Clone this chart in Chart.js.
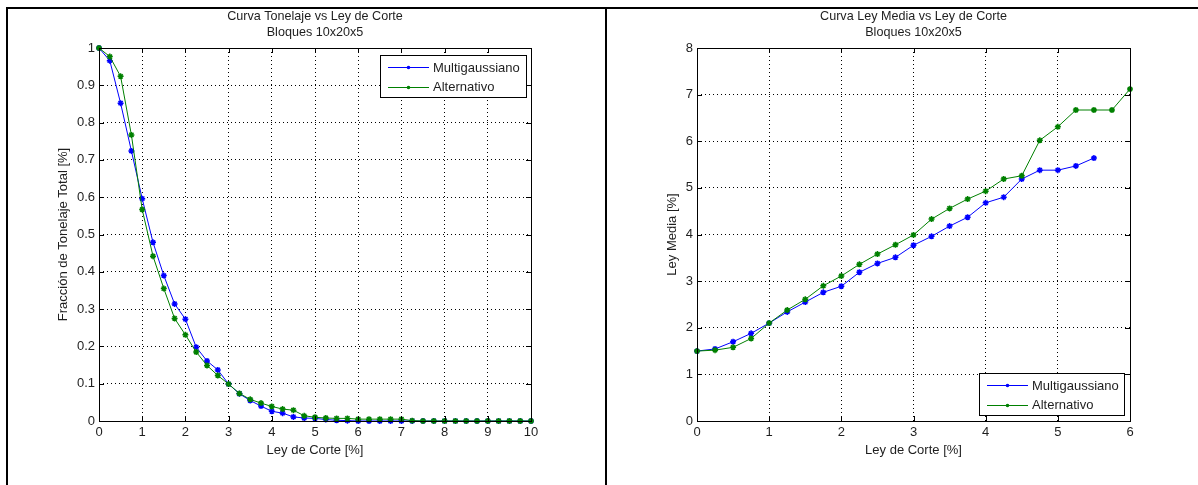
<!DOCTYPE html>
<html lang="es">
<head>
<meta charset="UTF-8">
<title>Curvas Tonelaje / Ley Media</title>
<script src="https://cdn.jsdelivr.net/npm/chart.js"></script>
<style>
  html, body { margin: 0; padding: 0; background: #fff; }
  body { width: 1198px; height: 485px; position: relative; overflow: hidden; }
  canvas { position: absolute; top: 0; }
  #cTon { left: 0; }
  #cLey { left: 600px; }
  .rule { position: absolute; background: #000; z-index: 2; }
</style>
</head>
<body>
<div class="rule" style="left:7px;top:7px;width:1191px;height:2px"></div>
<div class="rule" style="left:6px;top:7px;width:2px;height:478px"></div>
<div class="rule" style="left:605px;top:7px;width:2px;height:478px"></div>
<canvas id="cTon" width="600" height="485"></canvas>
<canvas id="cLey" width="598" height="485"></canvas>
<script>
// ley de corte (%) para la curva de tonelaje
const cutoffTon = [0, 0.25, 0.5, 0.75, 1, 1.25, 1.5, 1.75, 2, 2.25, 2.5, 2.75, 3, 3.25, 3.5, 3.75,
  4, 4.25, 4.5, 4.75, 5, 5.25, 5.5, 5.75, 6, 6.25, 6.5, 6.75, 7, 7.25, 7.5, 7.75,
  8, 8.25, 8.5, 8.75, 9, 9.25, 9.5, 9.75, 10];
const tonMulti = [1.000, 0.966, 0.852, 0.724, 0.596, 0.479, 0.390, 0.314, 0.273, 0.198, 0.161, 0.137,
  0.099, 0.073, 0.055, 0.040, 0.026, 0.021, 0.011, 0.008, 0.007, 0.004, 0.002, 0.001,
  0, 0, 0, 0, 0, 0, 0, 0, 0, 0, 0, 0, 0, 0, 0, 0, 0];
const tonAlt = [1.000, 0.977, 0.924, 0.767, 0.567, 0.442, 0.355, 0.275, 0.231, 0.185, 0.149, 0.122,
  0.099, 0.074, 0.058, 0.048, 0.039, 0.032, 0.029, 0.014, 0.010, 0.008, 0.007, 0.007,
  0.005, 0.005, 0.005, 0.005, 0.005, 0.001, 0, 0, 0, 0, 0, 0, 0, 0, 0, 0, 0];

// ley de corte (%) para la curva de ley media
const cutoffLey = [0, 0.25, 0.5, 0.75, 1, 1.25, 1.5, 1.75, 2, 2.25, 2.5, 2.75, 3, 3.25, 3.5, 3.75,
  4, 4.25, 4.5, 4.75, 5, 5.25, 5.5, 5.75, 6];
const leyMulti = [1.50, 1.545, 1.70, 1.88, 2.10, 2.34, 2.55, 2.76, 2.89, 3.19, 3.38, 3.51,
  3.77, 3.96, 4.18, 4.37, 4.68, 4.80, 5.19, 5.38, 5.38, 5.47, 5.64];
const leyAlt = [1.50, 1.52, 1.58, 1.77, 2.10, 2.38, 2.61, 2.90, 3.11, 3.36, 3.58, 3.78,
  3.99, 4.33, 4.56, 4.76, 4.93, 5.19, 5.26, 6.02, 6.31, 6.67, 6.67, 6.67, 7.12];

const xTicksTon = [0, 1, 2, 3, 4, 5, 6, 7, 8, 9, 10];
const yTicksTon = [0, 0.1, 0.2, 0.3, 0.4, 0.5, 0.6, 0.7, 0.8, 0.9, 1];
const xTicksLey = [0, 1, 2, 3, 4, 5, 6];
const yTicksLey = [0, 1, 2, 3, 4, 5, 6, 7, 8];

const seriesNames = ['Multigaussiano', 'Alternativo'];
const BLUE = '#0000ff', GREEN = '#008000';
const FONT = "'Liberation Sans', Arial, Helvetica, sans-serif";
const TXT = '#1e1e1e';

function pts(xs, ys) {
  return ys.map((y, i) => ({ x: xs[i], y }));
}

// caja del eje, marcas interiores en los cuatro lados y leyenda con borde
const matBox = {
  id: 'matBox',
  afterDraw(chart, args, opts) {
    const { ctx, chartArea: a, scales } = chart;
    ctx.save();
    ctx.strokeStyle = '#000';
    ctx.lineWidth = 1;
    ctx.beginPath();
    scales.x.ticks.forEach(t => {
      const px = Math.round(scales.x.getPixelForValue(t.value)) + 0.5;
      ctx.moveTo(px, a.bottom); ctx.lineTo(px, a.bottom - 5);
      ctx.moveTo(px, a.top); ctx.lineTo(px, a.top + 5);
    });
    scales.y.ticks.forEach(t => {
      const py = Math.round(scales.y.getPixelForValue(t.value)) + 0.5;
      ctx.moveTo(a.left, py); ctx.lineTo(a.left + 5, py);
      ctx.moveTo(a.right, py); ctx.lineTo(a.right - 5, py);
    });
    ctx.stroke();
    ctx.strokeRect(Math.round(a.left) + 0.5, Math.round(a.top) + 0.5,
      Math.round(a.right - a.left), Math.round(a.bottom - a.top));

    // leyenda
    const w = opts.w, h = 42;
    const left = Math.round(a.right - opts.dx - w);
    const top = opts.corner === 'top' ? Math.round(a.top + opts.dy) : Math.round(a.bottom - opts.dy - h);
    ctx.fillStyle = '#fff';
    ctx.fillRect(left, top, w, h);
    ctx.strokeRect(left + 0.5, top + 0.5, w, h);
    ctx.font = '13px ' + FONT;
    ctx.textBaseline = 'middle';
    ctx.textAlign = 'left';
    [BLUE, GREEN].forEach((c, i) => {
      const y = top + 12 + i * 19.5;
      ctx.strokeStyle = c;
      ctx.beginPath();
      ctx.moveTo(left + 8, Math.round(y) + 0.5); ctx.lineTo(left + 49, Math.round(y) + 0.5);
      ctx.stroke();
      ctx.fillStyle = c;
      ctx.beginPath();
      ctx.arc(left + 28.5, Math.round(y) + 0.5, 1.8, 0, Math.PI * 2);
      ctx.fill();
      ctx.fillStyle = TXT;
      ctx.fillText(seriesNames[i], left + 53, y + 1);
    });
    ctx.restore();
  }
};

function makeChart(id, cfg) {
  const ds = (label, data, color, order) => ({
    label, data, order,
    borderColor: color, backgroundColor: color,
    borderWidth: 1, pointStyle: 'star', pointRadius: 3, pointBorderWidth: 1.5,
    pointHoverRadius: 3, tension: 0, clip: false
  });
  const axis = (ticks, title, extra) => Object.assign({
    type: 'linear',
    min: ticks[0], max: ticks[ticks.length - 1],
    afterBuildTicks: s => { s.ticks = ticks.map(v => ({ value: v })); },
    grid: { color: '#000', lineWidth: 1, drawTicks: false },
    border: { display: false, dash: [1, 3] },
    ticks: {
      color: TXT, font: { family: FONT, size: 13 }, padding: 4, maxRotation: 0, autoSkip: false,
      callback: v => String(v)
    },
    title: { display: true, text: title, color: TXT, font: { family: FONT, size: 13, lineHeight: '14px' } }
  }, extra);

  return new Chart(document.getElementById(id), {
    type: 'line',
    data: {
      datasets: [
        ds(seriesNames[0], cfg.blue, BLUE, 1),
        ds(seriesNames[1], cfg.green, GREEN, 0)
      ]
    },
    options: {
      responsive: false,
      animation: false,
      events: [],
      layout: { padding: { left: 0, right: cfg.padRight, top: 0, bottom: 0 } },
      scales: {
        x: axis(cfg.xTicks, 'Ley de Corte [%]', {
          afterFit: s => { s.height = 64; }
        }),
        y: axis(cfg.yTicks, cfg.yTitle, {
          afterFit: s => { s.width = cfg.yWidth; }
        })
      },
      plugins: {
        legend: { display: false },
        tooltip: { enabled: false },
        title: {
          display: true, fullSize: false,
          text: cfg.title, color: TXT,
          font: { family: FONT, size: 12.6, weight: 'normal', lineHeight: '16px' },
          padding: { top: 9, bottom: 7 }
        },
        matBox: cfg.legend
      }
    },
    plugins: [matBox]
  });
}

const tonChart = makeChart('cTon', {
  blue: pts(cutoffTon, tonMulti), green: pts(cutoffTon, tonAlt),
  xTicks: xTicksTon, yTicks: yTicksTon,
  yTitle: 'Fracción de Tonelaje Total [%]',
  title: ['Curva Tonelaje vs Ley de Corte', 'Bloques 10x20x5'],
  padRight: 69, yWidth: 99,
  legend: { corner: 'top', dx: 5, dy: 7, w: 146 }
});
tonChart.options.scales.x.title.padding = { top: 0, bottom: 28 };
tonChart.options.scales.y.title.padding = { top: 56, bottom: 0 };
tonChart.update();

const leyChart = makeChart('cLey', {
  blue: pts(cutoffLey, leyMulti), green: pts(cutoffLey, leyAlt),
  xTicks: xTicksLey, yTicks: yTicksLey,
  yTitle: 'Ley Media [%]',
  title: ['Curva Ley Media vs Ley de Corte', 'Bloques 10x20x5'],
  padRight: 68, yWidth: 97,
  legend: { corner: 'bottom', dx: 6, dy: 6, w: 145 }
});
leyChart.options.scales.x.title.padding = { top: 0, bottom: 28 };
leyChart.options.scales.y.title.padding = { top: 65, bottom: 0 };
leyChart.update();
</script>
</body>
</html>
